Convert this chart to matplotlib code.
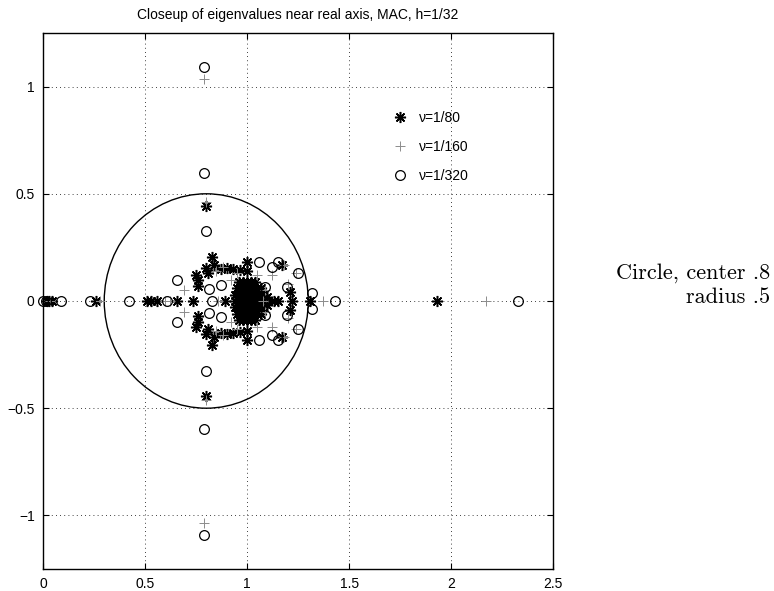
import matplotlib
matplotlib.use("Agg")
import matplotlib.pyplot as plt
from matplotlib.patches import Circle

plt.rcParams["font.family"] = ["Liberation Sans", "DejaVu Sans"]

# eigenvalues (real part, imaginary part)
nu80_re = [0.02, 0.03, 0.045, 0.26, 0.51, 0.53, 0.56, 0.655, 0.735, 0.89, 1.22, 1.31, 1.93,
           0.80, 0.80,
           0.76, 0.76, 0.75, 0.80, 0.81, 0.83, 0.84, 0.87, 0.90, 0.93, 0.965, 1.00, 1.00, 1.17, 1.21,
           0.76, 0.76, 0.75, 0.80, 0.81, 0.83, 0.84, 0.87, 0.90, 0.93, 0.965, 1.00, 1.00, 1.17, 1.21,
           0.94, 0.96, 0.98, 1.00, 1.02, 1.04, 1.06, 1.08,
           0.94, 0.96, 0.98, 1.00, 1.02, 1.04, 1.06, 1.08,
           0.94, 0.96, 0.98, 1.00, 1.02, 1.04, 1.06, 1.08,
           0.95, 0.97, 0.99, 1.01, 1.03, 1.05, 1.07,
           0.95, 0.97, 0.99, 1.01, 1.03, 1.05, 1.07,
           0.96, 0.98, 1.00, 1.02, 1.04,
           0.96, 0.98, 1.00, 1.02, 1.04,
           1.10, 1.10, 1.13, 1.15]
nu80_im = [0, 0, 0, 0, 0, 0, 0, 0, 0, 0, 0, 0, 0,
           0.445, -0.445,
           0.07, 0.10, 0.12, 0.155, 0.13, 0.205, 0.17, 0.15, 0.155, 0.15, 0.145, 0.18, 0.14, 0.17, 0.04,
           -0.07, -0.10, -0.12, -0.155, -0.13, -0.205, -0.17, -0.15, -0.155, -0.15, -0.145, -0.18, -0.14,
           -0.17, -0.04,
           0, 0, 0, 0, 0, 0, 0, 0,
           0.03, 0.03, 0.03, 0.03, 0.03, 0.03, 0.03, 0.03,
           -0.03, -0.03, -0.03, -0.03, -0.03, -0.03, -0.03, -0.03,
           0.06, 0.06, 0.06, 0.06, 0.06, 0.06, 0.06,
           -0.06, -0.06, -0.06, -0.06, -0.06, -0.06, -0.06,
           0.09, 0.09, 0.09, 0.09, 0.09,
           -0.09, -0.09, -0.09, -0.09, -0.09,
           0.02, -0.02, 0.0, 0.0]

nu160_re = [0.035, 0.28, 0.60, 0.62, 0.86, 1.08, 1.37, 2.17,
            0.79, 0.79, 0.80, 0.80, 0.69, 0.69,
            0.85, 0.85, 0.88, 0.88, 0.95, 0.95, 1.05, 1.05, 1.12, 1.12, 1.18, 1.18, 1.24, 1.24,
            1.20, 1.20, 1.09, 1.09, 0.92, 0.92]
nu160_im = [0, 0, 0, 0, 0, 0, 0, 0,
            1.035, -1.035, 0.46, -0.46, 0.05, -0.05,
            0.14, -0.14, 0.16, -0.16, 0.13, -0.13, 0.12, -0.12, 0.12, -0.12, 0.17, -0.17, 0.13, -0.13,
            0.08, -0.08, 0.05, -0.05, 0.10, -0.10]

nu320_re = [0.0, 0.015, 0.09, 0.23, 0.42, 0.61, 0.83, 1.43, 2.33,
            0.79, 0.79, 0.79, 0.79, 0.80, 0.80,
            0.655, 0.655, 0.815, 0.815, 0.87, 0.87, 1.06, 1.06, 1.12, 1.12, 1.15, 1.15,
            1.25, 1.25, 1.195, 1.195, 1.32, 1.32, 1.09, 1.09]
nu320_im = [0, 0, 0, 0, 0, 0, 0, 0, 0,
            1.09, -1.09, 0.595, -0.595, 0.325, -0.325,
            0.097, -0.097, 0.056, -0.056, 0.075, -0.075, 0.18, -0.18, 0.16, -0.16, 0.18, -0.18,
            0.13, -0.13, 0.066, -0.066, 0.035, -0.035, 0.065, -0.065]

circle_center = 0.8
circle_radius = 0.5

fig = plt.figure(figsize=(7.74, 5.91), dpi=100)
ax = fig.add_axes([0.0556, 0.0372, 0.659, 0.907])

ax.add_patch(Circle((circle_center, 0), circle_radius, fill=False, color="black", lw=1.0))

ax.plot(nu80_re, nu80_im, linestyle="none", marker=(8, 2, 0), markersize=8,
        mec="black", mew=1.1, label="ν=1/80", clip_on=False)
ax.plot(nu160_re, nu160_im, linestyle="none", marker="+", markersize=7,
        mec="0.55", mew=0.7, label="ν=1/160", clip_on=False)
ax.plot(nu320_re, nu320_im, linestyle="none", marker="o", markersize=7,
        mfc="none", mec="black", mew=0.9, label="ν=1/320", clip_on=False)

ax.set_xlim(0, 2.5)
ax.set_ylim(-1.25, 1.25)
ax.set_xticks([0, 0.5, 1, 1.5, 2, 2.5])
ax.set_xticklabels(["0", "0.5", "1", "1.5", "2", "2.5"])
ax.set_yticks([-1, -0.5, 0, 0.5, 1])
ax.set_yticklabels(["\u22121", "\u22120.5", "0", "0.5", "1"])
ax.tick_params(direction="in", top=True, right=True, labelsize=10, length=4, pad=6)
ax.grid(True, color="black", linestyle=(0, (1, 4)), linewidth=0.6)
for s in ax.spines.values():
    s.set_linewidth(1.0)

ax.set_title("Closeup of eigenvalues near real axis, MAC, h=1/32", fontsize=10, pad=10)

ax.legend(loc="upper left", bbox_to_anchor=(0.686, 0.855), frameon=False, fontsize=10,
          borderpad=0, borderaxespad=0, handlelength=1.0, handletextpad=0.9, labelspacing=1.1)

fig.text(0.995, 0.538, "Circle, center .8", ha="right", va="center", family="cmr10", fontsize=16)
fig.text(0.995, 0.497, "radius .5", ha="right", va="center", family="cmr10", fontsize=16)

fig.savefig("out.png", dpi=100)
